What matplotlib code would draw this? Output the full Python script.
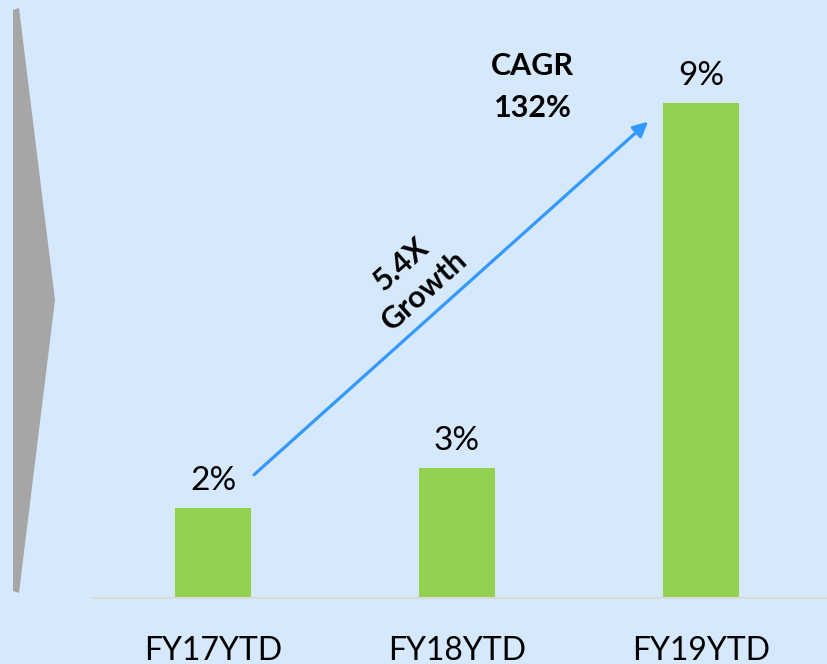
import matplotlib.pyplot as plt
from matplotlib.patches import Polygon

# data
periods = ["FY17YTD", "FY18YTD", "FY19YTD"]
share = [1.67, 2.42, 9.2]
share_labels = ["2%", "3%", "9%"]
growth_text = "5.4X\nGrowth"
cagr_text = "CAGR\n132%"

plt.rcParams['font.family'] = ['Lato', 'DejaVu Sans']

bg = '#D6E9FC'
fig = plt.figure(figsize=(8.27, 6.64), dpi=100, facecolor=bg)

# gray chevron on the left
W, H = 827, 664
pts = [(13, 10), (19, 8), (55, 300), (19, 593), (13, 591)]
fig.patches.append(Polygon([(x / W, 1 - y / H) for x, y in pts], closed=True,
                           transform=fig.transFigure, facecolor='#A6A6A6',
                           edgecolor='none'))

ax = fig.add_axes([92 / W, 66 / H, 735 / W, 598 / H])
ax.set_facecolor(bg)
x = list(range(len(periods)))
ax.bar(x, share, width=0.31, color='#92D050')
ax.set_xlim(-0.496, 2.516)
ax.set_ylim(0, 11.11)

for xi, v, lab in zip(x, share, share_labels):
    ax.text(xi, v + 0.22, lab, ha='center', va='bottom', fontsize=24)

# growth arrow from first bar to last bar
ax.annotate('', xy=(x[2] - 0.217, share[2] - 0.35),
            xytext=(x[0] + 0.168, share[0] + 0.62),
            arrowprops=dict(arrowstyle='-|>', color='#3399FF', lw=2.3,
                            mutation_scale=22, shrinkA=0, shrinkB=0))
ax.text(0.82, 5.96, growth_text, rotation=42, ha='center', va='center',
        fontsize=22, fontweight='bold', linespacing=1.3,
        rotation_mode='anchor')
ax.text(1.31, 9.5, cagr_text, ha='center', va='center', fontsize=22,
        fontweight='bold', linespacing=1.6)

ax.set_xticks(x)
ax.set_xticklabels(periods, fontsize=23)
ax.tick_params(axis='x', length=0, pad=27)
ax.set_yticks([])
for s in ['top', 'left', 'right']:
    ax.spines[s].set_visible(False)
ax.spines['bottom'].set_color('#D9D9D9')
ax.spines['bottom'].set_linewidth(1.5)

fig.savefig('out.png', dpi=100, facecolor=bg)
